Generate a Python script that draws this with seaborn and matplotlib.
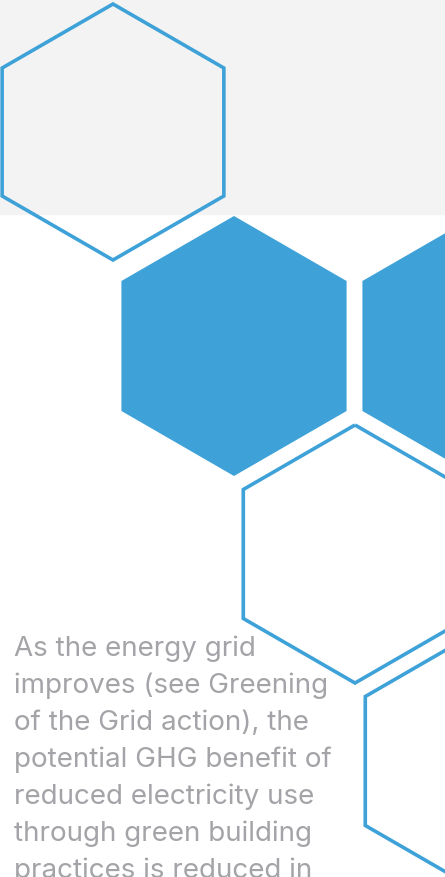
import numpy as np
import matplotlib
matplotlib.use("Agg")
import matplotlib.pyplot as plt
import seaborn as sns

# hexagon layout (pixel space, y down)
hex_cx = [113, 234, 475, 355, 477]
hex_cy = [133, 347, 347, 555, 762]
hex_r = [128, 130, 130, 129, 129]
hex_filled = [False, True, True, False, False]

text_lines = [
    "As the energy grid",
    "improves (see Greening",
    "of the Grid action), the",
    "potential GHG benefit of",
    "reduced electricity use",
    "through green building",
    "practices is reduced in",
]

BLUE = "#3ea2d9"
GREY_BG = "#f3f3f3"
TEXT_C = "#a4a4a8"

sns.set_style("white")
plt.rcParams['font.family'] = ['Inter', 'DejaVu Sans']

fig = plt.figure(figsize=(4.45, 8.78), dpi=100)
ax = fig.add_axes([0, 0, 1, 1])
ax.set_xlim(0, 445)
ax.set_ylim(878, 0)
ax.axis("off")

ax.axhspan(0, 215, color=GREY_BG, zorder=0)

ang = np.deg2rad(np.arange(6) * 60 - 90)
for cx, cy, r, filled in zip(hex_cx, hex_cy, hex_r, hex_filled):
    xs = cx + r * np.cos(ang)
    ys = cy + r * np.sin(ang)
    if filled:
        ax.fill(xs, ys, color=BLUE, lw=0, zorder=2)
    else:
        ax.fill(xs, ys, facecolor="none", edgecolor=BLUE, lw=2.6,
                joinstyle="miter", zorder=2)

for i, line in enumerate(text_lines):
    ax.text(14, 656 + 37 * i, line, fontsize=20, color=TEXT_C,
            va="baseline", ha="left", zorder=3)

fig.savefig("out.png", dpi=100)
